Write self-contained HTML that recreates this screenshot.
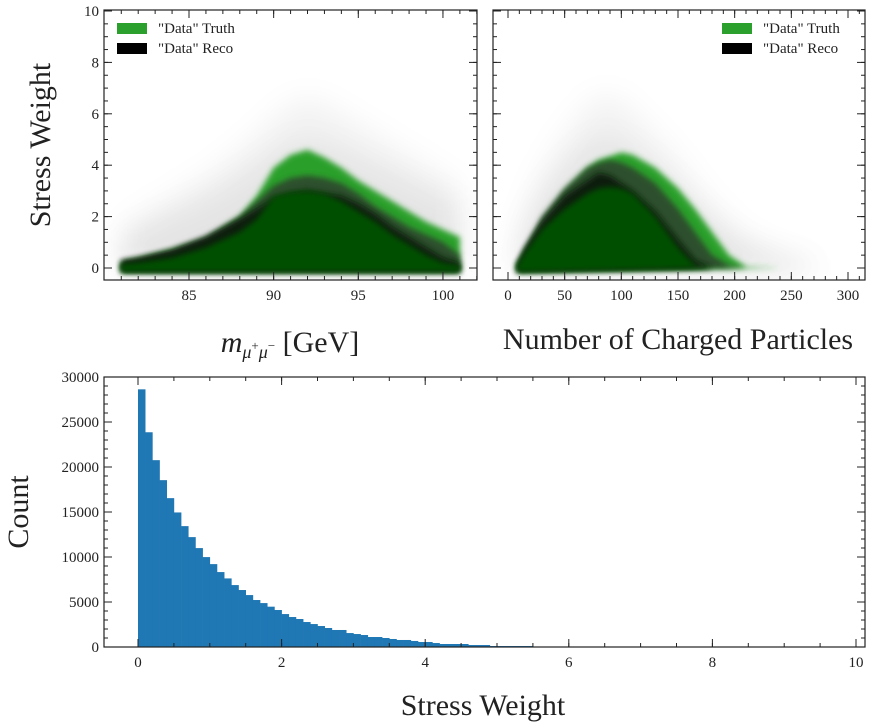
<!DOCTYPE html>
<html><head><meta charset="utf-8">
<style>
body{margin:0;background:#fff;}
svg{display:block;font-family:"Liberation Serif",serif;}
</style></head>
<body>
<svg id="fig" width="872" height="728" viewBox="0 0 872 728" xmlns="http://www.w3.org/2000/svg">
<defs>
<filter id="blur3" x="-20%" y="-20%" width="140%" height="140%"><feGaussianBlur stdDeviation="3"/></filter>
<filter id="blur10" x="-30%" y="-30%" width="160%" height="160%"><feGaussianBlur stdDeviation="14"/></filter>
<clipPath id="clipL"><rect x="104" y="10" width="373" height="270"/></clipPath>
<clipPath id="clipR"><rect x="493" y="10" width="372" height="270"/></clipPath>
</defs>
<g id="root"></g>
</svg>
<script>
// ---- Histogram data ----
const histBinWidth = 0.1;
const histCounts = [28630,23860,20760,18540,16540,14950,13430,12210,10990,9990,9210,8325,7620,6880,6330,5770,5220,4880,4480,4110,3660,3330,3110,2775,2550,2330,2110,1890,1890,1550,1440,1330,1110,1110,1000,890,780,780,670,555,555,440,333,333,333,333,220,220,220,110,110,110,110,110,110];
const histXTicks = [0,2,4,6,8,10];
const histYTicks = [0,5000,10000,15000,20000,25000,30000];
// ---- Scatter envelopes (upper edge of each density layer) ----
const massX = [81,82,84,86,88,89,90,91,92,93,94,95,96,97,98,99,100,101];
const massHaze = [1.5,2.0,2.8,3.6,4.6,5.2,5.8,6.4,6.6,6.4,6.0,5.6,5.2,4.8,4.4,4.0,3.6,3.2];
const massTruth = [0.2,0.35,0.7,1.1,2.0,2.8,3.9,4.4,4.6,4.3,3.9,3.4,3.0,2.6,2.2,1.8,1.5,1.2];
const massGrey = [0.2,0.35,0.7,1.2,2.0,2.6,3.2,3.5,3.6,3.5,3.3,2.9,2.4,2.0,1.6,1.3,1.0,0.5];
const massReco = [0.3,0.4,0.7,1.2,1.9,2.3,2.7,2.9,3.0,2.9,2.8,2.5,2.1,1.6,1.2,0.8,0.4,0.2];
const massCore = [0.15,0.2,0.4,0.8,1.4,1.9,2.8,2.95,3.0,2.9,2.6,2.2,1.8,1.3,0.9,0.5,0.2,0.1];
const nchX = [8,15,30,50,70,80,90,100,110,130,150,165,180,195,210,240,270];
const nchHaze = [0.8,2.2,3.8,5.2,6.3,6.7,6.7,6.5,6.1,5.2,4.2,3.3,2.5,1.8,1.2,0.6,0.2];
const nchTruth = [0.1,0.6,1.8,3.0,3.9,4.2,4.35,4.5,4.4,3.9,3.1,2.3,1.4,0.5,0.05,0,0];
const nchGrey = [0.1,0.7,2.0,3.1,3.9,4.1,4.2,4.1,3.9,3.3,2.3,1.4,0.5,0.1,0,0,0];
const nchReco = [0.15,0.8,1.8,2.8,3.4,3.7,3.6,3.3,3.0,2.2,1.1,0.3,0,0,0,0,0];
const nchCore = [0.1,0.6,1.5,2.3,2.9,3.1,3.15,3.1,2.9,2.0,0.8,0.1,0,0,0,0,0];
const yTicksTop = [0,2,4,6,8,10];
const massTicks = [85,90,95,100];
const nchTicks = [0,50,100,150,200,250,300];

const NS="http://www.w3.org/2000/svg";
const root=document.getElementById('root');
function mk(tag,attrs,parent){const e=document.createElementNS(NS,tag);for(const k in attrs)e.setAttribute(k,attrs[k]);(parent||root).appendChild(e);return e;}

const yTop = v => 268 - v*25.7;
const xMass = v => 189 + (v-85)*16.93;
const xNch = v => 508 + v*1.1333;
const xHist = v => 138 + v*71.8;
const yHist = v => 647 - v*0.009;

function layer(g,xs,ys,xf,color,op,filt,name){
  let last=ys.length-1;
  while(last>0 && ys[last]<=0) last--;
  last=Math.min(ys.length-1,last+1);
  const baseline=ys[last]<=0?0:-0.15;
  let d='M'+xf(xs[0])+','+yTop(-0.15);
  for(let i=0;i<=last;i++){d+=' L'+xf(xs[i])+','+yTop(ys[i]);}
  d+=' L'+xf(xs[last])+','+yTop(baseline)+' Z';
  const p=mk('path',{d:d,fill:color,'fill-opacity':op,filter:filt},g);
  
  
}

function ticks(x0,y0,x1,y1,xs,xf,minorX,ys,yf,minorY,showYLabels){
  const g=mk('g',{});
  xs.forEach(v=>{const x=xf(v);mk('line',{x1:x,x2:x,y1:y1,y2:y1-8,stroke:'#222'},g);mk('line',{x1:x,x2:x,y1:y0,y2:y0+8,stroke:'#222'},g);
    const t=mk('text',{x:x,y:y1+20,'font-size':15,'text-anchor':'middle',fill:'#222'},g);t.textContent=v;
    
    });
  minorX.forEach(v=>{const x=xf(v);if(x<x0||x>x1)return;mk('line',{x1:x,x2:x,y1:y1,y2:y1-4,stroke:'#222'},g);mk('line',{x1:x,x2:x,y1:y0,y2:y0+4,stroke:'#222'},g);});
  ys.forEach(v=>{const y=yf(v);mk('line',{x1:x0,x2:x0+8,y1:y,y2:y,stroke:'#222'},g);mk('line',{x1:x1,x2:x1-8,y1:y,y2:y,stroke:'#222'},g);
    if(showYLabels){const t=mk('text',{x:x0-5,y:y+5,'font-size':15,'text-anchor':'end',fill:'#222'},g);t.textContent=v;
      
      }});
  minorY.forEach(v=>{const y=yf(v);if(y<y0||y>y1)return;mk('line',{x1:x0,x2:x0+4,y1:y,y2:y,stroke:'#222'},g);mk('line',{x1:x1,x2:x1-4,y1:y,y2:y,stroke:'#222'},g);});
  mk('rect',{x:x0,y:y0,width:x1-x0,height:y1-y0,fill:'none',stroke:'#222','stroke-width':1.2},g);
}
function range(a,b,s){const r=[];for(let v=a;v<=b+1e-9;v+=s)r.push(+v.toFixed(4));return r;}

function scatterPanel(clip,xs,haze,truth,grey,reco,core,xf,name){
  const g=mk('g',{'clip-path':'url(#'+clip+')'});
  
  
  layer(g,xs,haze,xf,'#000',0.05,'url(#blur10)','haze');
  layer(g,xs,haze.map(v=>v*0.75),xf,'#000',0.06,'url(#blur10)','haze-inner');
  layer(g,xs,truth,xf,'#2ca02c',1,'url(#blur3)','truth-layer');
  layer(g,xs,grey,xf,'#2f462f',0.9,'url(#blur3)','overlap-layer');
  layer(g,xs,reco,xf,'#0a1a0a',1,'url(#blur3)','reco-layer');
  layer(g,xs,core,xf,'#024f02',1,'url(#blur3)','core-layer');
}
scatterPanel('clipL',massX,massHaze,massTruth,massGrey,massReco,massCore,xMass,'scatter-mass');
scatterPanel('clipR',nchX,nchHaze,nchTruth,nchGrey,nchReco,nchCore,xNch,'scatter-nch');

ticks(104,10,477,280,massTicks,xMass,range(81,102,1),yTicksTop,yTop,range(0,10,0.5),true);
ticks(493,10,865,280,nchTicks,xNch,range(0,310,10),yTicksTop,yTop,range(0,10,0.5),false);

const hg=mk('g',{});


histCounts.forEach((c,i)=>{
  const x0=xHist(i*histBinWidth),x1=xHist((i+1)*histBinWidth);
  const r=mk('rect',{x:x0,y:yHist(c),width:x1-x0+0.3,height:yHist(0)-yHist(c),fill:'#1f77b4'},hg);
  
  
});
ticks(104,377,865,647,histXTicks,xHist,range(-0.5,10.5,0.5),histYTicks,yHist,range(0,30000,1000),true);

function legend(x,y,textX,name){
  const g=mk('g',{});
  
  
  mk('rect',{x:x,y:y,width:30,height:11,fill:'#2ca02c'},g);
  mk('rect',{x:x,y:y+20,width:30,height:11,fill:'#000'},g);
  const t1=mk('text',{x:textX,y:y+10,'font-size':15,fill:'#222'},g);t1.textContent='"Data" Truth';
  const t2=mk('text',{x:textX,y:y+30,'font-size':15,fill:'#222'},g);t2.textContent='"Data" Reco';
}
legend(117,23,158,'legend-left');
legend(722,23,763,'legend-right');

function label(txt,x,y,size,rot,name){
  const t=mk('text',{x:x,y:y,'font-size':size,'text-anchor':'middle',fill:'#222'});
  if(rot)t.setAttribute('transform','rotate(-90 '+x+' '+y+')');
  t.textContent=txt;
  
  
  return t;
}
label('Stress Weight',50,145,30,true,'y-axis-title-top');
const mt=mk('text',{x:290,y:352,'font-size':30,'text-anchor':'middle',fill:'#222'});


mt.innerHTML='<tspan font-style="italic">m</tspan><tspan font-size="18" dy="6" font-style="italic">μ</tspan><tspan font-size="13" dy="-8">+</tspan><tspan font-size="18" dy="8" font-style="italic">μ</tspan><tspan font-size="13" dy="-8">−</tspan><tspan dy="2"> [GeV]</tspan>';
label('Number of Charged Particles',678,349,30,false,'x-axis-title-nch');
label('Count',28,512,30,true,'y-axis-title-count');
label('Stress Weight',483,715,30,false,'x-axis-title-hist');
</script>
</body></html>
